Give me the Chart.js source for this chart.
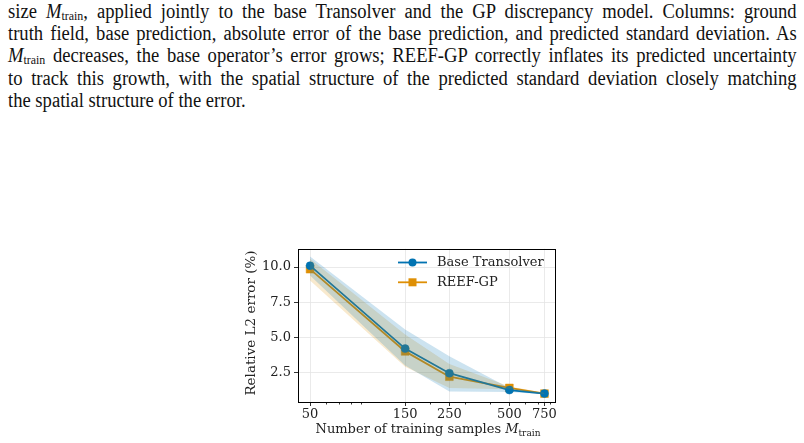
<!DOCTYPE html>
<html>
<head>
<meta charset="utf-8">
<script src="https://cdn.jsdelivr.net/npm/chart.js@4"></script>
<style>
  body { margin: 0; background: #fff; width: 804px; height: 443px; overflow: hidden; position: relative; }
  #caption { position: absolute; left: 8px; top: 0px; width: 848px; font-family: "Liberation Serif", serif; font-size: 20px; line-height: 22.2px; color: #111; transform: scaleX(0.93); transform-origin: 0 0; }
  #caption div { text-align: justify; text-align-last: justify; white-space: nowrap; }
  #caption div.last { text-align-last: left; }
  #caption sub { font-size: 0.64em; vertical-align: -0.18em; line-height: 0; font-style: normal; }
  #chart { position: absolute; left: 230px; top: 238px; }
</style>
</head>
<body>
<div id="caption">
  <div>size <i>M</i><sub>train</sub>, applied jointly to the base Transolver and the GP discrepancy model. Columns: ground</div>
  <div>truth field, base prediction, absolute error of the base prediction, and predicted standard deviation. As</div>
  <div><i>M</i><sub>train</sub> decreases, the base operator’s error grows; REEF-GP correctly inflates its predicted uncertainty</div>
  <div>to track this growth, with the spatial structure of the predicted standard deviation closely matching</div>
  <div class="last">the spatial structure of the error.</div>
</div>
<canvas id="chart" width="340" height="205"></canvas>
<script>
// training set sizes and errors (%)
const sizes = [50, 150, 250, 500, 750];
const baseMean = [10.1, 4.2, 2.45, 1.25, 1.0];
const baseLow = [9.4, 3.0, 1.15, 1.12, 0.95];
const baseHigh = [10.75, 5.55, 3.65, 1.4, 1.05];
const reefMean = [9.85, 4.0, 2.2, 1.4, 1.0];
const reefLow = [9.05, 2.9, 1.4, 1.3, 0.95];
const reefHigh = [10.6, 5.2, 3.1, 1.5, 1.05];
const xTicks = [50, 150, 250, 500, 750];
const xMinor = [60, 70, 80, 90, 200, 300, 400, 600, 700, 800];
const yTicks = [2.5, 5, 7.5, 10];
const seriesNames = ['Base Transolver', 'REEF-GP'];

const BLUE = '#0173B2';
const ORANGE = '#DE8F05';
const FONT = 'DejaVu Serif';

const pts = ys => ys.map((y, i) => ({ x: sizes[i], y: y }));

const band = (data, color, target) => ({
    data: pts(data), borderWidth: 0, pointRadius: 0, backgroundColor: color,
    fill: target === undefined ? false : { target: target }
});

const extras = {
    id: 'extras',
    afterDraw(chart) {
        const ctx = chart.ctx;
        const a = chart.chartArea;
        const x = chart.scales.x;
        ctx.save();
        // minor ticks
        ctx.strokeStyle = '#000';
        ctx.lineWidth = 0.8;
        xMinor.forEach(v => {
            const px = Math.round(x.getPixelForValue(v)) + 0.5;
            ctx.beginPath();
            ctx.moveTo(px, a.bottom);
            ctx.lineTo(px, a.bottom + 2.5);
            ctx.stroke();
        });
        // frame
        ctx.lineWidth = 1;
        ctx.strokeStyle = '#000';
        ctx.strokeRect(Math.round(a.left) + 0.5, Math.round(a.top) + 0.5, Math.round(a.right - a.left), Math.round(a.bottom - a.top));

        // legend
        const lx = 168, ly = 24.5;
        [[BLUE, 'circle'], [ORANGE, 'rect']].forEach((s, i) => {
            const y = ly + i * 19.8;
            ctx.strokeStyle = s[0];
            ctx.fillStyle = s[0];
            ctx.lineWidth = 1.8;
            ctx.beginPath();
            ctx.moveTo(lx, y);
            ctx.lineTo(lx + 29, y);
            ctx.stroke();
            if (s[1] === 'circle') {
                ctx.beginPath();
                ctx.arc(lx + 14.5, y, 4, 0, Math.PI * 2);
                ctx.fill();
            } else {
                ctx.fillRect(lx + 14.5 - 4, y - 4, 8, 8);
            }
            ctx.fillStyle = '#222';
            ctx.font = '13px "' + FONT + '"';
            ctx.textBaseline = 'middle';
            ctx.textAlign = 'left';
            ctx.fillText(seriesNames[i], lx + 39, y);
        });

        // x title
        ctx.fillStyle = '#222';
        ctx.textBaseline = 'alphabetic';
        const main = 'Number of training samples ';
        ctx.font = '13px "' + FONT + '"';
        const w1 = ctx.measureText(main).width;
        ctx.font = 'italic 13px "' + FONT + '"';
        const w2 = ctx.measureText('M').width;
        ctx.font = '9px "' + FONT + '"';
        const w3 = ctx.measureText('train').width;
        let tx = 198 - (w1 + w2 + w3) / 2;
        const ty = 195;
        ctx.textAlign = 'left';
        ctx.font = '13px "' + FONT + '"';
        ctx.fillText(main, tx, ty);
        ctx.font = 'italic 13px "' + FONT + '"';
        ctx.fillText('M', tx + w1, ty);
        ctx.font = '9px "' + FONT + '"';
        ctx.fillText('train', tx + w1 + w2, ty + 2.5);

        // y title
        ctx.translate(21, 85);
        ctx.rotate(-Math.PI / 2);
        ctx.font = '13.5px "' + FONT + '"';
        ctx.textAlign = 'center';
        ctx.textBaseline = 'middle';
        ctx.fillText('Relative L2 error (%)', 0, 0);
        ctx.restore();
    }
};

new Chart(document.getElementById('chart'), {
    type: 'line',
    data: {
        datasets: [
            band(baseLow, 'rgba(1,115,178,0.2)'),
            band(baseHigh, 'rgba(1,115,178,0.2)', 0),
            band(reefLow, 'rgba(222,143,5,0.2)'),
            band(reefHigh, 'rgba(222,143,5,0.2)', 2),
            {
                label: seriesNames[0], data: pts(baseMean), borderColor: BLUE, backgroundColor: BLUE,
                borderWidth: 1.8, pointStyle: 'circle', pointRadius: 4, pointBorderWidth: 0.5, fill: false
            },
            {
                label: seriesNames[1], data: pts(reefMean), borderColor: ORANGE, backgroundColor: ORANGE,
                borderWidth: 1.8, pointStyle: 'rect', pointRadius: 5.5, pointBorderWidth: 0.5, fill: false
            }
        ]
    },
    options: {
        responsive: false,
        animation: false,
        layout: { padding: { top: 7, right: 15, left: 0, bottom: 0 } },
        plugins: { legend: { display: false }, tooltip: { enabled: false } },
        elements: { line: { tension: 0 } },
        scales: {
            x: {
                type: 'logarithmic', min: 43.5, max: 847,
                afterBuildTicks: s => { s.ticks = xTicks.map(v => ({ value: v })); },
                afterFit: s => { s.height = 41; },
                ticks: { autoSkip: false, maxRotation: 0, padding: 1, color: '#222', font: { family: FONT, size: 13 }, callback: v => String(v) },
                grid: { color: '#e4e4e4', borderDash: [3, 2], lineWidth: 0.8, tickLength: 4, tickColor: '#000', tickBorderDash: [], tickWidth: 0.8 },
                border: { display: false }
            },
            y: {
                min: 0.4, max: 11.3,
                afterBuildTicks: s => { s.ticks = yTicks.map(v => ({ value: v })); },
                afterFit: s => { s.width = 68; },
                ticks: { padding: 3, color: '#222', font: { family: FONT, size: 13 }, callback: v => v.toFixed(1) },
                grid: { color: '#e4e4e4', borderDash: [3, 2], lineWidth: 0.8, tickLength: 4, tickColor: '#000', tickBorderDash: [], tickWidth: 0.8 },
                border: { display: false }
            }
        }
    },
    plugins: [extras]
});
</script>
</body>
</html>
